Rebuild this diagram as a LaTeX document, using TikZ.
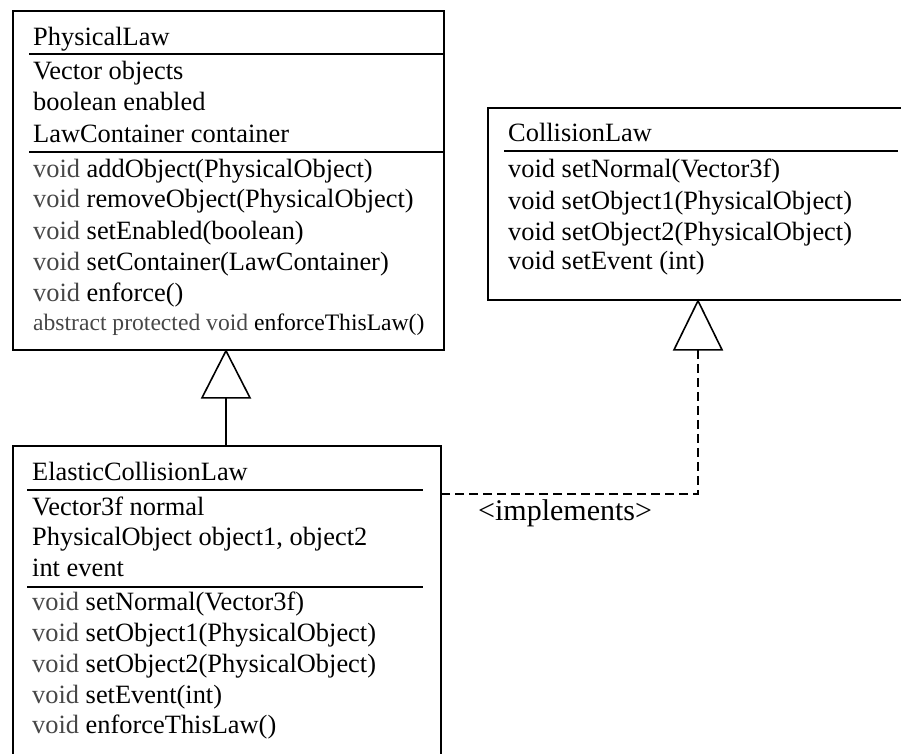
\documentclass[tikz,border=0pt]{standalone}
\usepackage{fontspec}
\setmainfont{Liberation Serif}
\usetikzlibrary{calc}
\newcommand\voidkw{\textcolor{black!72}{void}}
\begin{document}
\begin{tikzpicture}[x=1pt,y=-1pt,
  classbox/.style={draw, line width=1.8pt, inner sep=0pt, anchor=north west},
  txt/.style={inner sep=0pt, anchor=base west, font=\fontsize{26.4}{31}\selectfont},
  smalltxt/.style={inner sep=0pt, anchor=base west, font=\fontsize{23.6}{28}\selectfont},
  sepline/.style={line width=1.2pt},
  genline/.style={line width=1.6pt, line join=miter},
  impline/.style={line width=1.6pt, dash pattern=on 9pt off 5pt}]
\useasboundingbox (0,0) rectangle (901,753);

% ---------- PhysicalLaw ----------
\node[classbox, minimum width=431pt, minimum height=339pt] (phys) at (12,10) {};
\draw[sepline] ($(phys.north west)+(17,44)$) -- ($(phys.north east)+(0,44)$);
\draw[sepline] ($(phys.north west)+(17,142)$) -- ($(phys.north east)+(0,142)$);
\node[txt] (p0) at (33,45) {PhysicalLaw};
\node[txt] (p1) at (33,79) {Vector objects};
\node[txt] (p2) at (33,110) {boolean enabled};
\node[txt] (p3) at (33,142) {LawContainer container};
\node[txt] (p4) at (33,177) {\voidkw{} addObject(PhysicalObject)};
\node[txt] (p5) at (33,207) {\voidkw{} removeObject(PhysicalObject)};
\node[txt] (p6) at (33,239) {\voidkw{} setEnabled(boolean)};
\node[txt] (p7) at (33,270) {\voidkw{} setContainer(LawContainer)};
\node[txt] (p8) at (33,301) {\voidkw{} enforce()};
\node[smalltxt] (p9) at (33,330) {\textcolor{black!72}{abstract protected void} enforceThisLaw()};

% ---------- CollisionLaw ----------
\node[classbox, minimum width=430pt, minimum height=192pt] (coll) at (487,107) {};
\draw[sepline] ($(coll.north west)+(17,44)$) -- ($(coll.north west)+(411,44)$);
\node[txt] (c0) at (508,141) {CollisionLaw};
\node[txt] (c1) at (508,177) {void setNormal(Vector3f)};
\node[txt] (c2) at (508,209) {void setObject1(PhysicalObject)};
\node[txt] (c3) at (508,240) {void setObject2(PhysicalObject)};
\node[txt] (c4) at (508,269) {void setEvent (int)};

% ---------- ElasticCollisionLaw ----------
\node[classbox, minimum width=428pt, minimum height=330pt] (elast) at (12,445) {};
\draw[sepline] ($(elast.north west)+(15,45)$) -- ($(elast.north west)+(411,45)$);
\draw[sepline] ($(elast.north west)+(15,142)$) -- ($(elast.north west)+(411,142)$);
\node[txt] (e0) at (32,480) {ElasticCollisionLaw};
\node[txt] (e1) at (32,515) {Vector3f normal};
\node[txt] (e2) at (32,545) {PhysicalObject object1, object2};
\node[txt] (e3) at (32,576) {int event};
\node[txt] (e4) at (32,610) {\voidkw{} setNormal(Vector3f)};
\node[txt] (e5) at (32,641) {\voidkw{} setObject1(PhysicalObject)};
\node[txt] (e6) at (32,672) {\voidkw{} setObject2(PhysicalObject)};
\node[txt] (e7) at (32,703) {\voidkw{} setEvent(int)};
\node[txt] (e8) at (32,733) {\voidkw{} enforceThisLaw()};

% ---------- generalization ----------
\coordinate (a1) at ($(phys.south west)+(214,0)$);
\draw[genline] (a1) -- ++(-24,47) -- ++(48,0) -- cycle;
\coordinate (b1) at ($(a1)+(0,47)$);
\draw[genline] (b1) -- (b1 |- elast.north);

% ---------- realization ----------
\coordinate (a2) at ($(coll.south west)+(211,0)$);
\draw[genline] (a2) -- ++(-24,49) -- ++(48,0) -- cycle;
\coordinate (b2) at ($(a2)+(0,49)$);
\coordinate (k2) at ($(b2)+(0,144)$);
\draw[impline] (b2) -- (k2) -- (k2 -| elast.east);
\node[inner sep=0pt, anchor=base west, font=\fontsize{30}{36}\selectfont] (impl) at (478,520) {<implements>};
\end{tikzpicture}
\end{document}
